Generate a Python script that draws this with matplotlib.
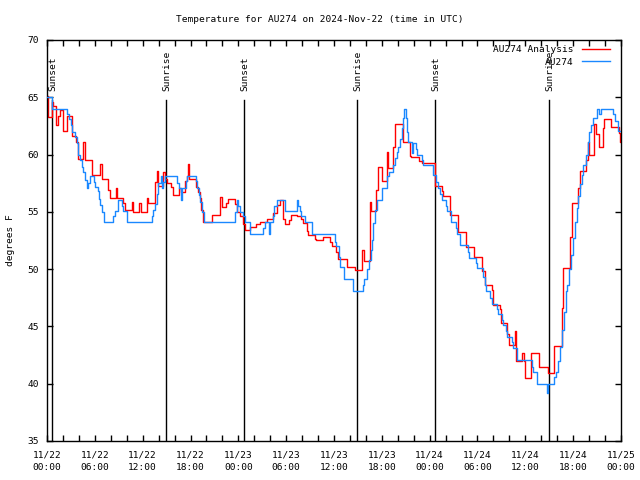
import matplotlib
matplotlib.use("Agg")
import matplotlib.pyplot as plt
import numpy as np

# ---- data (hours since 2024-11-22 00:00 UTC, temperature degF) ----
obs_hours = [0.0, 0.62, 2.47, 2.76, 3.0, 3.18, 3.5, 3.72, 3.93, 4.14, 4.35, 4.56, 4.77, 4.98,
             5.18, 5.39, 5.94, 6.02, 6.35, 6.52, 6.65, 6.86, 7.19, 8.32, 8.53, 8.86, 9.4, 9.58,
             10.08, 13.13, 13.34, 13.55, 13.76, 13.97, 14.3, 14.45, 14.6, 14.75, 16.3, 16.5,
             16.8, 16.95, 17.4, 17.5, 18.7, 18.85, 19.1, 19.25, 19.5, 19.7, 23.58, 23.8, 24.0,
             24.2, 24.6, 24.8, 25.5, 27.1, 27.3, 27.8, 27.95, 28.3, 28.5, 28.8, 29.9, 31.3,
             31.5, 31.7, 31.9, 32.3, 33.2, 36.1, 36.3, 36.6, 36.8, 37.2, 38.4, 39.6, 39.8,
             40.2, 40.4, 40.6, 40.75, 40.95, 41.15, 41.45, 42.0, 42.69, 42.94, 43.44, 43.65,
             43.86, 44.07, 44.28, 44.49, 44.7, 44.82, 45.03, 45.2, 45.32, 45.74, 45.95, 46.25,
             46.37, 47.0, 47.2, 48.46, 48.8, 49.09, 49.3, 49.5, 50.0, 50.22, 50.68, 51.3,
             51.47, 51.81, 52.77, 52.98, 53.81, 53.98, 54.73, 54.9, 55.07, 55.57, 55.78,
             56.41, 56.62, 57.04, 57.16, 57.58, 57.74, 58.29, 58.42, 58.92, 60.8, 60.92,
             61.42, 62.68, 62.85, 63.64, 63.85, 64.14, 64.35, 64.64, 64.85, 65.1, 65.27,
             65.52, 65.69, 65.94, 66.23, 66.44, 66.65, 66.86, 67.07, 67.28, 67.61, 67.82,
             68.03, 68.24, 68.45, 68.95, 69.28, 69.45, 71.04, 71.25, 71.67, 72.0]
obs_temp = [65.0, 64.0, 63.5, 63.1, 62.6, 62.0, 61.5, 61.0, 60.0, 59.5, 58.9, 58.5, 57.8, 57.1,
            57.5, 58.1, 57.6, 57.2, 56.8, 56.1, 55.6, 55.0, 54.1, 54.6, 55.1, 56.0, 55.5, 55.1,
            54.1, 54.6, 55.2, 55.7, 56.6, 57.5, 58.1, 57.1, 57.6, 58.1, 57.5, 57.1,
            56.0, 57.1, 57.7, 58.1, 57.7, 57.1, 56.5, 55.9, 55.0, 54.1, 55.0, 56.0, 55.5,
            55.0, 54.6, 54.1, 53.1, 53.6, 54.1, 53.1, 54.1, 54.6, 55.5, 56.0, 55.1, 56.0,
            55.5, 55.1, 54.6, 54.1, 53.1, 52.4, 52.0, 51.1, 50.2, 49.1, 48.1, 48.6, 49.1,
            50.0, 50.8, 51.7, 52.5, 54.0, 55.2, 56.0, 57.1, 58.1, 58.5, 59.1, 59.7,
            60.2, 60.7, 61.4, 62.3, 63.2, 64.0, 63.2, 62.0, 61.1, 60.1, 61.0, 60.5,
            60.0, 59.5, 59.1, 58.2, 57.6, 57.1, 56.6, 56.0, 55.5, 55.1, 54.1, 53.6,
            53.1, 52.1, 51.5, 51.0, 50.5, 50.1, 49.3, 48.6, 48.1, 47.5, 47.0,
            46.5, 46.1, 45.6, 45.1, 44.6, 44.1, 43.6, 43.1, 42.1, 41.5, 41.05,
            40.0, 39.2, 40.0, 40.6, 41.05, 42.0, 43.2, 44.7, 46.3, 48.1, 48.6,
            50.0, 51.2, 52.7, 54.1, 55.3, 56.4, 57.4, 58.2, 59.1, 60.0, 61.1,
            62.0, 62.6, 63.2, 64.0, 63.5, 64.0, 63.5, 62.9, 62.1, 62.1]

ana_hours = [0.0, 0.17, 0.67, 0.8, 1.09, 1.34, 1.63, 2.05, 2.55, 3.1, 3.64, 3.85, 4.56, 4.77,
             5.6, 6.65, 6.86, 7.69, 7.9, 8.65, 8.8, 9.58, 9.78, 10.62, 10.83, 11.58, 11.79,
             12.5, 12.7, 13.55, 13.76, 13.97, 14.6, 14.8, 15.0, 15.6, 15.85, 16.6, 16.77,
             17.3, 17.5, 17.72, 17.85, 18.69, 18.95, 19.15, 19.35, 19.6, 20.7, 21.7, 21.9,
             22.5, 22.7, 23.6, 23.8, 24.2, 24.6, 24.84, 25.5, 26.2, 26.7, 27.6, 28.4, 28.8,
             29.2, 29.6, 29.8, 30.4, 30.6, 31.4, 31.8, 32.15, 32.6, 32.8, 33.6, 33.8, 34.66,
             35.5, 35.7, 36.3, 36.5, 37.6, 38.6, 39.55, 39.8, 40.5, 40.7, 41.3, 41.55, 42.0,
             42.6, 42.8, 43.45, 43.7, 44.6, 44.7, 45.5, 45.7, 46.6, 47.0, 48.65, 49.6, 49.7,
             50.6, 51.55, 52.55, 53.55, 54.6, 54.9, 55.85, 55.95, 56.8, 56.95, 57.7, 58.0,
             58.7, 58.85, 59.6, 59.8, 59.96, 60.7, 61.75, 62.8, 63.65, 64.6, 64.78, 65.6,
             65.8, 66.65, 66.86, 67.6, 67.82, 68.03, 68.65, 68.86, 69.2, 69.7, 69.9, 70.7,
             71.7, 71.9, 72.0]
ana_temp = [65.1, 63.3, 64.6, 64.2, 62.6, 63.4, 63.9, 62.1, 63.4, 61.6, 61.1, 59.6, 61.1, 59.5,
            58.2, 59.2, 57.9, 56.9, 56.2, 57.1, 56.2, 55.8, 55.2, 55.9, 55.0, 55.8, 55.0,
            56.2, 55.8, 57.6, 58.6, 57.3, 58.5, 57.9, 57.5, 57.2, 56.5, 57.1, 56.7,
            57.7, 58.1, 59.2, 57.9, 57.2, 56.7, 56.2, 55.2, 54.1, 54.7, 56.3, 55.4,
            55.8, 56.1, 55.7, 55.0, 54.6, 53.9, 53.4, 53.7, 53.9, 54.1, 54.4, 54.9, 55.6,
            56.0, 54.4, 53.9, 54.3, 54.7, 54.6, 54.4, 54.05, 53.3, 53.0, 52.6, 52.5, 52.8,
            52.4, 52.0, 51.5, 50.9, 50.2, 49.9, 51.7, 50.7, 55.9, 55.1, 56.9, 58.9, 57.7,
            60.2, 58.85, 60.7, 62.7, 61.6, 61.1, 59.9, 59.8, 59.4, 59.3, 57.3, 56.8, 56.4,
            54.7, 53.2, 51.9, 51.1, 49.8, 48.6, 48.2, 46.9, 46.5, 45.3, 44.3, 43.4,
            44.6, 42.0, 42.65, 42.0, 40.5, 42.65, 41.5, 40.9, 43.3, 46.6, 50.1, 52.8,
            55.75, 57.1, 58.6, 59.5, 61.1, 60.0, 62.7, 61.8, 60.7, 62.3, 63.1, 62.4,
            61.9, 61.1, 61.1]

sun_hours = [0.67, 14.97, 24.75, 38.93, 48.71, 63.0]
sun_labels = ["Sunset", "Sunrise", "Sunset", "Sunrise", "Sunset", "Sunrise"]

xtick_hours = [0, 6, 12, 18, 24, 30, 36, 42, 48, 54, 60, 66, 72]
xtick_labels = ["11/22\n00:00", "11/22\n06:00", "11/22\n12:00", "11/22\n18:00",
                "11/23\n00:00", "11/23\n06:00", "11/23\n12:00", "11/23\n18:00",
                "11/24\n00:00", "11/24\n06:00", "11/24\n12:00", "11/24\n18:00",
                "11/25\n00:00"]
yticks = [35, 40, 45, 50, 55, 60, 65, 70]

title = "Temperature for AU274 on 2024-Nov-22 (time in UTC)"
ylabel = "degrees F"
series_labels = ["AU274 Analysis", "AU274"]

# ---- drawing ----
FONT = "DejaVu Sans Mono"
FS = 6.8
plt.rcParams["font.family"] = FONT
plt.rcParams["font.size"] = FS

fig = plt.figure(figsize=(6.4, 4.8), dpi=100)
ax = fig.add_axes([47 / 640, 39 / 480, 574 / 640, 401 / 480])

for h, lab in zip(sun_hours, sun_labels):
    ax.plot([h, h], [0, 0.85], color="black", lw=1.0,
            transform=ax.get_xaxis_transform(), zorder=1)
    ax.text(h + 0.1, 0.872, lab, rotation=90, ha="center", va="bottom",
            transform=ax.get_xaxis_transform(), fontsize=FS)

ax.plot(ana_hours, ana_temp, drawstyle="steps-post", color="#ff0000", lw=1.0,
        label=series_labels[0], zorder=2)
ax.plot(obs_hours, obs_temp, drawstyle="steps-post", color="#1a88ff", lw=1.0,
        label=series_labels[1], zorder=3)

ax.set_xlim(0, 72)
ax.set_ylim(35, 70)
ax.set_xticks(xtick_hours)
ax.set_xticklabels(xtick_labels, linespacing=1.45)
ax.set_xticks(np.arange(0, 73, 2), minor=True)
ax.set_yticks(yticks)
ax.tick_params(which="both", direction="in", top=True, right=True,
               length=4, width=1, labelsize=FS)
ax.tick_params(axis="x", pad=7)
ax.tick_params(axis="y", pad=6)
for s in ax.spines.values():
    s.set_linewidth(1.0)

fig.text(0.5, 1 - 19 / 480, title, ha="center", va="center", fontsize=FS)
ax.set_ylabel(ylabel, fontsize=FS, labelpad=9)

leg = ax.legend(loc="upper right", bbox_to_anchor=(1 - 11 / 574, 1 - 5 / 401),
                frameon=False, markerfirst=False, borderpad=0, borderaxespad=0,
                handlelength=3.0, handletextpad=0.9, labelspacing=0.4,
                fontsize=FS)

fig.savefig("out.png", dpi=100)
